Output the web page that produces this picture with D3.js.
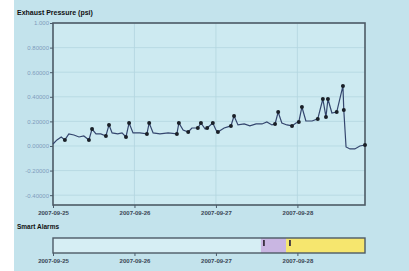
<!DOCTYPE html>
<html>
<head>
<meta charset="utf-8">
<title>Exhaust Pressure</title>
<script src="https://d3js.org/d3.v7.min.js"></script>
<style>
  body { margin: 0; background: #fff; }
  text { font-family: "Liberation Sans", Arial, sans-serif; }
</style>
</head>
<body>
<svg width="409" height="271"></svg>
<script>
// pressure readings: [time, psi]
var times = ["2007-09-25 00:00","2007-09-25 01:10","2007-09-25 02:25","2007-09-25 03:30","2007-09-25 04:40",
  "2007-09-25 06:10","2007-09-25 07:40","2007-09-25 09:05","2007-09-25 10:35","2007-09-25 11:30",
  "2007-09-25 12:40","2007-09-25 14:05","2007-09-25 15:35","2007-09-25 16:30","2007-09-25 17:25",
  "2007-09-25 19:05","2007-09-25 20:20","2007-09-25 21:30","2007-09-25 22:25","2007-09-25 23:35",
  "2007-09-26 01:35","2007-09-26 03:40","2007-09-26 04:20","2007-09-26 05:30","2007-09-26 07:30",
  "2007-09-26 09:55","2007-09-26 12:30","2007-09-26 13:05","2007-09-26 14:20","2007-09-26 15:50",
  "2007-09-26 16:55","2007-09-26 18:40","2007-09-26 19:35","2007-09-26 20:50","2007-09-26 21:25",
  "2007-09-26 23:05","2007-09-27 00:00","2007-09-27 00:35","2007-09-27 02:25","2007-09-27 04:25",
  "2007-09-27 05:20","2007-09-27 06:30","2007-09-27 08:20","2007-09-27 10:00","2007-09-27 11:50",
  "2007-09-27 13:35","2007-09-27 15:00","2007-09-27 16:30","2007-09-27 17:25","2007-09-27 18:20",
  "2007-09-27 19:25","2007-09-27 20:55","2007-09-27 22:25","2007-09-27 23:35","2007-09-28 00:25",
  "2007-09-28 01:20","2007-09-28 02:30","2007-09-28 04:20","2007-09-28 06:00","2007-09-28 07:30",
  "2007-09-28 08:25","2007-09-28 09:00","2007-09-28 10:10","2007-09-28 11:35","2007-09-28 13:25",
  "2007-09-28 13:40","2007-09-28 14:20","2007-09-28 15:30","2007-09-28 16:55","2007-09-28 18:25",
  "2007-09-28 19:55"];
var psi = [0.016,0.049,0.073,0.049,0.098,0.089,0.073,0.081,0.049,0.138,
  0.098,0.098,0.081,0.171,0.106,0.098,0.106,0.073,0.187,0.106,
  0.106,0.098,0.187,0.106,0.098,0.106,0.098,0.187,0.130,0.114,
  0.146,0.146,0.187,0.138,0.146,0.187,0.130,0.114,0.146,0.163,
  0.244,0.171,0.179,0.163,0.179,0.179,0.195,0.171,0.179,0.276,
  0.187,0.171,0.163,0.187,0.195,0.317,0.203,0.203,0.220,0.382,
  0.236,0.382,0.268,0.276,0.488,0.293,-0.008,-0.024,-0.024,0.000,
  0.008];
// indexes of readings drawn with a dot
var marked = [3,8,9,12,13,17,18,21,22,26,27,29,31,32,34,35,37,39,40,48,49,52,54,55,58,59,60,61,63,64,65,70];

var yTicks = [1.0,0.8,0.6,0.4,0.2,0,-0.2,-0.4];
var yTickLabels = ["1.000","0.80000","0.60000","0.40000","0.20000","0.00000","-0.20000","-0.40000"];
var dayTicks = ["2007-09-25 00:00","2007-09-26 00:00","2007-09-27 00:00","2007-09-28 00:00"];

// alarm bands
var alarmStart = ["2007-09-27 13:15","2007-09-27 20:40"];
var alarmEnd = ["2007-09-27 20:40","2007-09-28 19:55"];
var alarmColor = ["#c9b6e2","#f6e66e"];
var alarmMarks = ["2007-09-27 14:10","2007-09-27 21:50"];

var parse = d3.timeParse("%Y-%m-%d %H:%M"),
    fmt = d3.timeFormat("%Y-%m-%d");

var data = times.map((t,i)=>({t:parse(t), v:psi[i]}));

var svg = d3.select("svg");
svg.append("rect").attr("x",14).attr("y",0).attr("width",395).attr("height",271).attr("fill","#c3e3ec");

var pL = 53, pR = 365, pT = 23, pB = 205;
var x = d3.scaleTime()
    .domain([parse("2007-09-25 00:00"), parse("2007-09-28 19:55")])
    .range([pL,pR]);
var y = d3.scaleLinear().domain([-0.48,1.0]).range([pB,pT]);

svg.append("text").text("Exhaust Pressure (psi)")
  .attr("x",17).attr("y",15).style("font-size","7px").style("font-weight","bold").attr("fill","#111");

// plot area
svg.append("rect").attr("x",pL).attr("y",pT).attr("width",pR-pL).attr("height",pB-pT)
  .attr("fill","#cdeaf1");

// grid
svg.append("g").selectAll("line").data(yTicks).join("line")
  .attr("x1",pL).attr("x2",pR).attr("y1",d=>y(d)).attr("y2",d=>y(d))
  .attr("stroke","#b4d6e0").attr("stroke-width",0.8);
svg.append("g").selectAll("line").data(dayTicks.slice(1)).join("line")
  .attr("x1",d=>x(parse(d))).attr("x2",d=>x(parse(d))).attr("y1",pT).attr("y2",pB)
  .attr("stroke","#b4d6e0").attr("stroke-width",0.8);

// y axis
var yAxis = svg.append("g").attr("transform",`translate(${pL},0)`)
  .call(d3.axisLeft(y).tickValues(yTicks).tickSize(3).tickFormat((d,i)=>yTickLabels[i]));
yAxis.select(".domain").remove();
yAxis.selectAll("line").attr("stroke","#4a5a6a");
yAxis.selectAll("text").attr("fill","#7f9cbc").style("font-size","6px").attr("x",-4);

// x axis
var xAxis = svg.append("g").attr("transform",`translate(0,${pB})`)
  .call(d3.axisBottom(x).tickValues(dayTicks.map(parse)).tickSize(3).tickFormat(fmt));
xAxis.select(".domain").remove();
xAxis.selectAll("line").attr("stroke","#4a5a6a");
xAxis.selectAll("text").attr("fill","#3a4654").style("font-size","6px").style("font-weight","bold").attr("y",6);

// frame
svg.append("rect").attr("x",pL).attr("y",pT).attr("width",pR-pL).attr("height",pB-pT)
  .attr("fill","none").attr("stroke","#4d5a66").attr("stroke-width",1.6);

// line
svg.append("path").datum(data)
  .attr("fill","none").attr("stroke","#34466e").attr("stroke-width",1.2)
  .attr("d",d3.line().x(d=>x(d.t)).y(d=>y(d.v)));
svg.append("g").selectAll("circle").data(marked.map(i=>data[i])).join("circle")
  .attr("cx",d=>x(d.t)).attr("cy",d=>y(d.v)).attr("r",2).attr("fill","#1a2028");

// alarms panel
svg.append("text").text("Smart Alarms")
  .attr("x",17).attr("y",229).style("font-size","6.5px").style("font-weight","bold").attr("fill","#111");
var aTop = 238, aBot = 253;
svg.append("rect").attr("x",pL).attr("y",aTop).attr("width",pR-pL).attr("height",aBot-aTop)
  .attr("fill","#d6eef4");
svg.append("g").selectAll("rect").data(alarmStart).join("rect")
  .attr("x",d=>x(parse(d))).attr("y",aTop)
  .attr("width",(d,i)=>x(parse(alarmEnd[i]))-x(parse(d))).attr("height",aBot-aTop)
  .attr("fill",(d,i)=>alarmColor[i]);
svg.append("g").selectAll("rect").data(alarmMarks).join("rect")
  .attr("x",d=>x(parse(d))-1).attr("y",aTop+2).attr("width",1.8).attr("height",6)
  .attr("fill","#3a3040");
svg.append("rect").attr("x",pL).attr("y",aTop).attr("width",pR-pL).attr("height",aBot-aTop)
  .attr("fill","none").attr("stroke","#4d5a66").attr("stroke-width",1.4);
var aAxis = svg.append("g").attr("transform",`translate(0,${aBot})`)
  .call(d3.axisBottom(x).tickValues(dayTicks.map(parse)).tickSize(3).tickFormat(fmt));
aAxis.select(".domain").remove();
aAxis.selectAll("line").attr("stroke","#4a5a6a");
aAxis.selectAll("text").attr("fill","#3a4654").style("font-size","6px").style("font-weight","bold").attr("y",6);
</script>
</body>
</html>
